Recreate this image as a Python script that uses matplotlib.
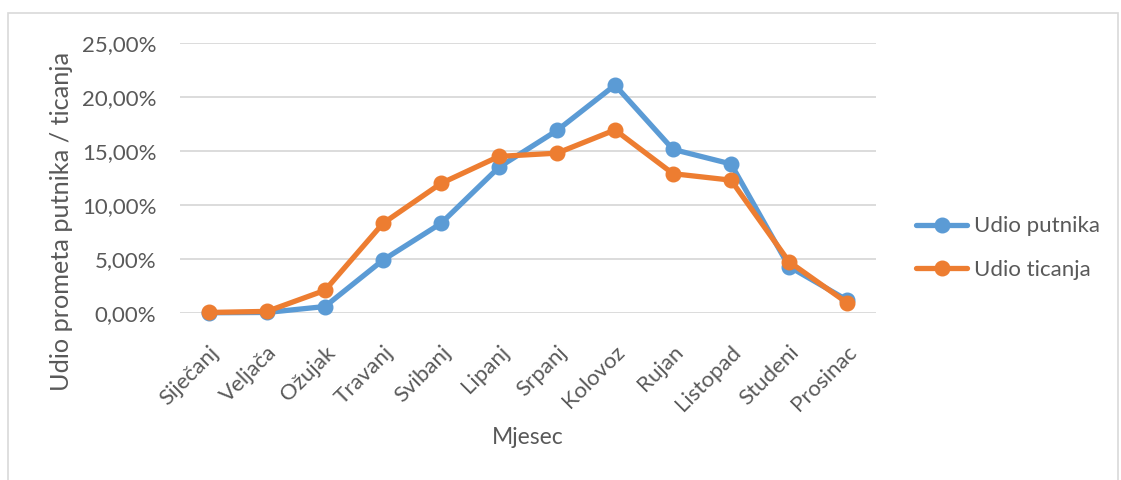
import matplotlib
matplotlib.use("Agg")
import matplotlib.pyplot as plt
from matplotlib.patches import Rectangle
from matplotlib.ticker import FuncFormatter

months = ["Siječanj", "Veljača", "Ožujak", "Travanj", "Svibanj", "Lipanj",
          "Srpanj", "Kolovoz", "Rujan", "Listopad", "Studeni", "Prosinac"]
udio_putnika = [0.02, 0.05, 0.6, 4.9, 8.3, 13.5, 16.9, 21.1, 15.15, 13.8, 4.3, 1.2]
udio_ticanja = [0.05, 0.15, 2.1, 8.3, 12.0, 14.5, 14.8, 16.95, 12.9, 12.3, 4.75, 0.95]
yticks = [0, 5, 10, 15, 20, 25]

BLUE = "#5B9BD5"
ORANGE = "#ED7D31"
TXT = "#595959"
GRID = "#D9D9D9"
FONT = ["Lato", "DejaVu Sans"]
FS = 16

plt.rcParams["font.family"] = FONT

W, H = 1121, 480
fig = plt.figure(figsize=(W / 100, H / 100), dpi=100)
fig.patch.set_facecolor("white")

# outer chart border
fig.add_artist(Rectangle((8 / W, -0.05), (1118 - 8) / W, (H - 13) / H + 0.05,
                         transform=fig.transFigure, fill=False,
                         edgecolor=GRID, linewidth=1.2))

left, right, top, bottom = 180, 876, 43, 313
ax = fig.add_axes([left / W, 1 - bottom / H, (right - left) / W, (bottom - top) / H])

x = range(len(months))
ax.plot(x, udio_putnika, color=BLUE, lw=3.8, marker="o", ms=10.5,
        label="Udio putnika", clip_on=False, zorder=3, solid_capstyle="round")
ax.plot(x, udio_ticanja, color=ORANGE, lw=3.8, marker="o", ms=10.5,
        label="Udio ticanja", clip_on=False, zorder=4, solid_capstyle="round")

ax.set_xlim(-0.5, len(months) - 0.5)
ax.set_ylim(0, 25)
ax.set_yticks(yticks)
ax.yaxis.set_major_formatter(FuncFormatter(lambda v, p: f"{v:.2f}%".replace(".", ",")))
ax.grid(axis="y", color=GRID, lw=1.3)
ax.set_axisbelow(True)
for s in ax.spines.values():
    s.set_visible(False)
ax.tick_params(axis="both", length=0, labelcolor=TXT, labelsize=FS)
ax.tick_params(axis="y", pad=17)
ax.set_xticks(list(x))
ax.set_xticklabels(months, rotation=45, ha="right", rotation_mode="anchor")
ax.tick_params(axis="x", pad=21)

fig.text(62 / W, 1 - 221 / H, "Udio prometa putnika / ticanja", rotation=90,
         ha="center", va="center", fontsize=FS + 2.2, color=TXT)
fig.text(528 / W, 1 - 437 / H, "Mjesec", ha="center", va="center",
         fontsize=FS + 0.5, color=TXT)

leg = ax.legend(loc="center left", bbox_to_anchor=(916 / W, 1 - 248 / H),
                bbox_transform=fig.transFigure, frameon=False, fontsize=FS,
                handlelength=2.3, handletextpad=0.3, labelspacing=1.05,
                borderpad=0, borderaxespad=0)
for t in leg.get_texts():
    t.set_color(TXT)

fig.savefig("out.png", dpi=100, facecolor="white")
